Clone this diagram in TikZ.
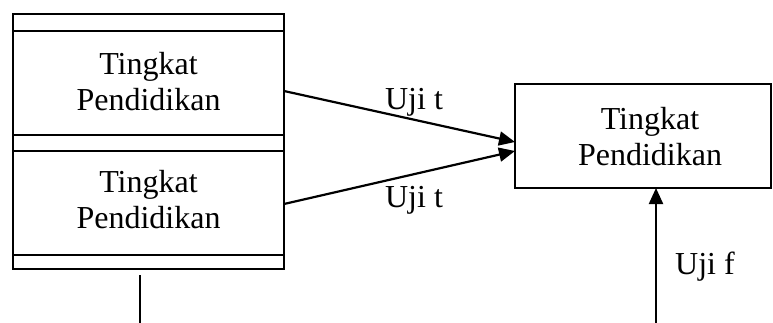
\documentclass[tikz,border=0pt]{standalone}
\usepackage{fontspec}
\setmainfont{Liberation Serif}
\usetikzlibrary{arrows.meta,calc}
\begin{document}
\begin{tikzpicture}[x=1pt,y=-1pt,
  box/.style={draw,line width=1.4pt,inner sep=0pt},
  lbl/.style={font=\fontsize{32}{36}\selectfont,align=center,inner sep=0pt},
  conn/.style={line width=2.2pt,-{Triangle[length=16pt,width=14pt]}},
  plain/.style={line width=1.8pt}]
\useasboundingbox (0,0) rectangle (773,323);
% left stacked box
\draw[box] (13,14) rectangle (284,269);
\node[box,minimum width=271pt,minimum height=104pt] (l1) at (148.5,83) {};
\node[box,minimum width=271pt,minimum height=104pt] (l2) at (148.5,203) {};
\node[lbl] (t1) at (148.5,82) {Tingkat\\Pendidikan};
\node[lbl] (t2) at (148.5,200) {Tingkat\\Pendidikan};
% right box
\node[box,minimum width=256pt,minimum height=104pt] (r) at (643,136) {};
\node[lbl] (t3) at (650,137) {Tingkat\\Pendidikan};
% connectors
\coordinate (a1) at (284,91);
\coordinate (a2) at (284,204);
\coordinate (e1) at (515,142);
\coordinate (e2) at (515,151);
\draw[conn] (a1) -- (e1);
\draw[conn] (a2) -- (e2);
\node[lbl] (u1) at (414,102) {Uji t};
\node[lbl] (u2) at (414,200) {Uji t};
\coordinate (b0) at (656,323);
\coordinate (b1) at (656,188);
\draw[conn] (b0) -- (b1);
\node[lbl] (uf) at (705,267) {Uji f};
\coordinate (d0) at (140,275);
\coordinate (d1) at (140,323);
\draw[plain] (d0) -- (d1);
\end{tikzpicture}
\end{document}
